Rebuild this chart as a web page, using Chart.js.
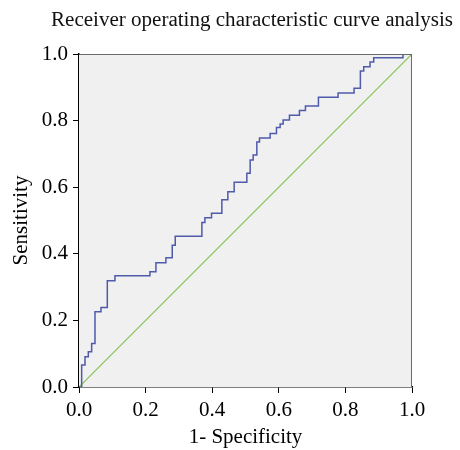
<!DOCTYPE html>
<html>
<head>
<meta charset="utf-8">
<script src="https://cdn.jsdelivr.net/npm/chart.js@4"></script>
<style>
  html, body { margin: 0; padding: 0; background: #fff; }
</style>
</head>
<body>
<canvas id="roc" width="460" height="450"></canvas>
<script>
  // ROC curve vertices (1 - specificity, sensitivity)
  const fprValues = [0, 0.008, 0.018, 0.028, 0.038, 0.048, 0.066, 0.085, 0.108, 0.213,
    0.231, 0.261, 0.280, 0.289, 0.369, 0.378, 0.398, 0.429, 0.447, 0.466,
    0.504, 0.514, 0.523, 0.534, 0.542, 0.574, 0.593, 0.604, 0.613, 0.632,
    0.662, 0.680, 0.719, 0.778, 0.826, 0.845, 0.855, 0.874, 0.885, 0.973, 1.0];
  const tprValues = [0, 0.066, 0.091, 0.106, 0.131, 0.226, 0.239, 0.319, 0.334, 0.346,
    0.373, 0.388, 0.426, 0.453, 0.494, 0.508, 0.522, 0.562, 0.586, 0.615,
    0.642, 0.682, 0.697, 0.736, 0.748, 0.761, 0.779, 0.790, 0.802, 0.816,
    0.830, 0.844, 0.870, 0.883, 0.897, 0.949, 0.962, 0.976, 0.989, 1.0, 1.0];
  const refX = [0, 1];
  const refY = [0, 1];
  const chartTitle = 'Receiver operating characteristic curve analysis';

  const serif = '"Liberation Serif", "Times New Roman", serif';

  // grey plot background, thin top/right frame and the wide title
  const plotFrame = {
    id: 'plotFrame',
    beforeDatasetsDraw(chart) {
      const { ctx, chartArea: a } = chart;
      ctx.save();
      ctx.fillStyle = '#f0f0f0';
      ctx.fillRect(a.left, a.top, a.right - a.left, a.bottom - a.top);
      ctx.restore();
    },
    afterDatasetsDraw(chart) {
      const { ctx, chartArea: a } = chart;
      ctx.save();
      ctx.strokeStyle = '#6a6a6a';
      ctx.lineWidth = 1;
      ctx.beginPath();
      ctx.moveTo(a.left, a.top + 0.5);
      ctx.lineTo(a.right - 0.5, a.top + 0.5);
      ctx.lineTo(a.right - 0.5, a.bottom);
      ctx.stroke();
      ctx.restore();
    },
    afterDraw(chart) {
      const { ctx } = chart;
      ctx.save();
      ctx.font = '20px ' + serif;
      ctx.fillStyle = '#111';
      ctx.textAlign = 'center';
      ctx.textBaseline = 'alphabetic';
      const w = ctx.measureText(chartTitle).width;
      ctx.translate(252, 26);
      ctx.scale(402 / w, 1);
      ctx.fillText(chartTitle, 0, 0);
      ctx.restore();
    },
  };

  const ctx = document.getElementById('roc').getContext('2d');

  new Chart(ctx, {
    type: 'line',
    data: {
      datasets: [
        {
          label: 'ROC',
          data: fprValues.map((x, i) => ({ x, y: tprValues[i] })),
          borderColor: '#4f5aaa',
          borderWidth: 1.5,
          pointRadius: 0,
          stepped: true,
          fill: false,
        },
        {
          label: 'Reference',
          data: refX.map((x, i) => ({ x, y: refY[i] })),
          borderColor: '#86c256',
          borderWidth: 1.2,
          pointRadius: 0,
          fill: false,
        },
      ],
    },
    options: {
      responsive: false,
      animation: false,
      layout: { padding: { left: 0, right: 48, top: 54, bottom: 0 } },
      plugins: {
        legend: { display: false },
        tooltip: { enabled: false },
        title: { display: false },
      },
      scales: {
        x: {
          type: 'linear',
          min: 0,
          max: 1,
          afterFit(scale) { scale.height = 63; },
          ticks: {
            stepSize: 0.2,
            color: '#000',
            padding: 5,
            font: { family: serif, size: 21 },
            callback: (v) => v.toFixed(1),
          },
          grid: { drawOnChartArea: false, drawTicks: true, tickLength: 6, color: '#000' },
          border: { display: true, color: '#000', width: 1.5 },
          title: {
            display: true,
            text: '1- Specificity',
            color: '#000',
            font: { family: serif, size: 21 },
            padding: { top: 0, bottom: 0 },
          },
        },
        y: {
          type: 'linear',
          min: 0,
          max: 1,
          afterFit(scale) { scale.width = 79; },
          ticks: {
            stepSize: 0.2,
            color: '#000',
            padding: 5,
            font: { family: serif, size: 21 },
            callback: (v) => v.toFixed(1),
          },
          grid: { drawOnChartArea: false, drawTicks: true, tickLength: 6, color: '#000' },
          border: { display: true, color: '#000', width: 1.5 },
          title: {
            display: true,
            text: 'Sensitivity',
            color: '#000',
            font: { family: serif, size: 21 },
            padding: { top: 9, bottom: 0 },
          },
        },
      },
    },
    plugins: [plotFrame],
  });
</script>
</body>
</html>
